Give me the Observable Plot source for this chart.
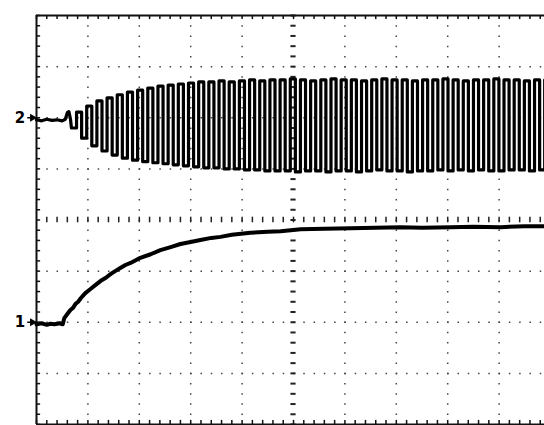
<!DOCTYPE html>
<html>
<head>
<meta charset="utf-8">
<script src="https://cdn.jsdelivr.net/npm/d3@7"></script>
<script src="https://cdn.jsdelivr.net/npm/@observablehq/plot@0.6"></script>
<style>
  html, body { margin: 0; padding: 0; background: #fff; }
</style>
</head>
<body>
<div id="chart"></div>
<script>
// Oscilloscope screen, units = divisions
const channelLabels = ["1", "2"];
const channelRefs = [-2.0, 2.0];

// Channel 1 (step response)
const ch1T = [0,0.1,0.2,0.27,0.35,0.45,0.51,0.54,0.6,0.66,0.71,0.76,0.81,0.86,0.95,1.05,1.15,1.25,1.35,1.44,1.53,1.63,1.73,1.83,2.02,2.22,2.41,2.61,2.80,3.0,3.19,3.4,3.58,3.8,4.16,4.5,4.75,5.14,5.6,6.11,6.6,7.08,7.5,8.05,8.5,9.03,9.5,9.88];
const ch1V = [-2.04,-2.02,-2.05,-2.03,-2.04,-2.02,-2.04,-1.92,-1.84,-1.76,-1.72,-1.64,-1.60,-1.53,-1.43,-1.35,-1.27,-1.19,-1.13,-1.06,-1.00,-0.94,-0.88,-0.84,-0.74,-0.67,-0.59,-0.53,-0.47,-0.43,-0.39,-0.35,-0.33,-0.29,-0.25,-0.23,-0.22,-0.18,-0.17,-0.16,-0.15,-0.14,-0.15,-0.14,-0.13,-0.14,-0.12,-0.12];

// Channel 2: pre-trigger samples
const ch2PreT = [0,0.1,0.2,0.3,0.4,0.5,0.56,0.6,0.63,0.66];
const ch2PreV = [1.96,1.94,1.97,1.95,1.96,1.94,1.97,2.10,2.12,1.98];
// Channel 2: oscillation, one top/bottom per cycle
const ch2Start = 0.68;
const ch2Period = 0.198;
const ch2Tops = [2.11,2.23,2.33,2.39,2.45,2.50,2.54,2.58,2.62,2.64,2.66,2.68,2.70,2.70,2.72,2.70,2.72,2.74,2.72,2.74,2.74,2.76,2.74,2.72,2.74,2.76,2.74,2.74,2.72,2.74,2.76,2.74,2.74,2.72,2.74,2.74,2.76,2.74,2.72,2.74,2.74,2.76,2.74,2.74,2.72,2.74,2.74];
const ch2Bottoms = [1.80,1.60,1.45,1.35,1.27,1.21,1.17,1.14,1.12,1.10,1.08,1.06,1.04,1.02,1.02,1.00,1.00,0.98,0.98,0.96,0.96,0.96,0.94,0.96,0.96,0.94,0.96,0.96,0.94,0.96,0.98,0.96,0.96,0.94,0.96,0.96,0.98,0.96,0.98,0.96,0.98,0.96,0.96,0.98,0.98,0.96,0.98];

// grid structure
const xDivs = [1,2,3,4,6,7,8,9];
const yDivs = [-3,-2,-1,1,2,3];
const xMinor = d3.range(0, 50).map(i => i * 0.2);
const yMinor = d3.range(0, 41).map(i => -4 + i * 0.2);

const ch1 = ch1T.map((t, i) => ({t, v: ch1V[i]}));
const ch2 = ch2PreT.map((t, i) => ({t, v: ch2PreV[i]}));
ch2Tops.forEach((top, i) => {
  const t = ch2Start + i * ch2Period;
  const b = ch2Bottoms[i];
  ch2.push({t, v: b}, {t: t + ch2Period / 2, v: b}, {t: t + ch2Period / 2, v: top}, {t: t + ch2Period, v: top});
});

const chart = Plot.plot({
  width: 544,
  height: 425,
  marginLeft: 36,
  marginRight: 0,
  marginTop: 15,
  marginBottom: 1,
  x: {domain: [0, 9.883], axis: null},
  y: {domain: [-4, 4], axis: null},
  style: {background: "#fff", overflow: "visible"},
  marks: [
    // dotted grid
    Plot.ruleX(xDivs, {stroke: "#444", strokeWidth: 1.5, strokeDasharray: "1.5 8.72"}),
    Plot.ruleY(yDivs, {stroke: "#444", strokeWidth: 1.5, strokeDasharray: "1.5 8.78"}),
    // center axes with minor ticks
    Plot.ruleX(xMinor.filter(d => d > 0), {x: d => d, y1: -0.055, y2: 0.055, stroke: "#222", strokeWidth: 1.5}),
    Plot.ruleY(yMinor, {y: d => d, x1: 4.95, x2: 5.05, stroke: "#222", strokeWidth: 2}),
    // frame + ticks
    Plot.ruleY([4], {stroke: "#111", strokeWidth: 2}),
    Plot.ruleY([-4], {stroke: "#111", strokeWidth: 2}),
    Plot.ruleX([0], {stroke: "#111", strokeWidth: 2}),
    Plot.ruleX(xMinor, {x: d => d, y1: 4, y2: 3.92, stroke: "#111", strokeWidth: 1.5}),
    Plot.ruleX(xMinor, {x: d => d, y1: -4, y2: -3.92, stroke: "#111", strokeWidth: 1.5}),
    Plot.ruleY(yMinor, {y: d => d, x1: 0, x2: 0.08, stroke: "#111", strokeWidth: 1.5}),
    // traces
    Plot.line(ch2, {x: "t", y: "v", stroke: "#000", strokeWidth: 3.2, curve: "linear", strokeLinejoin: "round"}),
    Plot.line(ch1, {x: "t", y: "v", stroke: "#000", strokeWidth: 4, curve: "linear", strokeLinejoin: "round"}),
    // channel markers
    Plot.text(channelLabels, {x: -0.32, y: (d, i) => channelRefs[i], text: d => d, fontSize: 15, fontWeight: "bold", fontFamily: "DejaVu Sans, sans-serif", fill: "#000"}),
    Plot.ruleY(channelRefs, {x1: -0.17, x2: 0, stroke: "#000", strokeWidth: 1.5}),
    Plot.dot(channelRefs, {x: -0.08, y: d => d, symbol: "triangle", r: 3, fill: "#000", rotate: 90})
  ]
});
document.getElementById("chart").appendChild(chart);
</script>
</body>
</html>
